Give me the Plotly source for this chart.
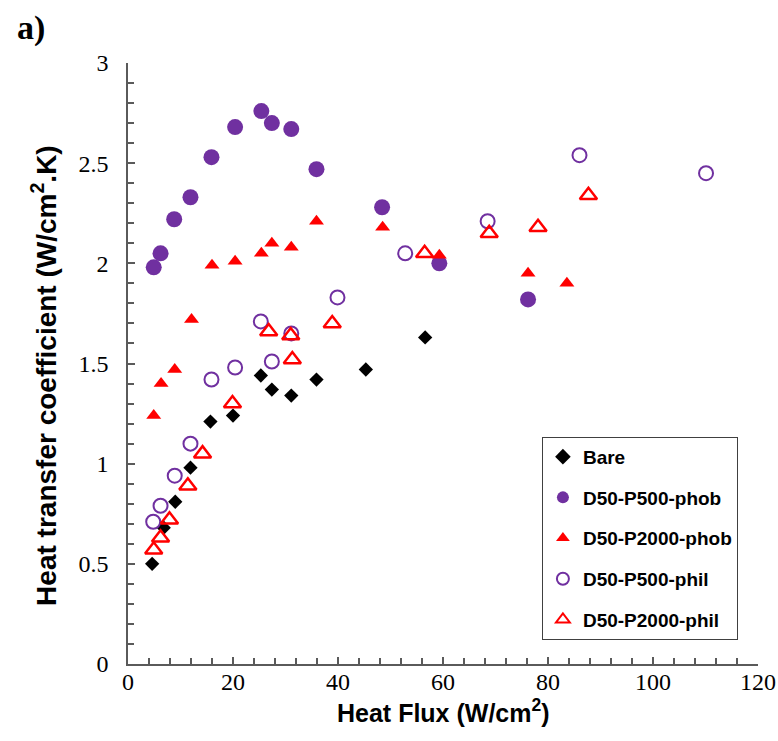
import plotly.graph_objects as go

# ---- data ----
bare_x = [4.6, 6.8, 9.0, 11.9, 15.7, 20.0, 25.3, 27.4, 31.1, 35.9, 45.3, 56.6]
bare_y = [0.50, 0.68, 0.81, 0.98, 1.21, 1.24, 1.44, 1.37, 1.34, 1.42, 1.47, 1.63]

p500_phob_x = [4.9, 6.2, 8.8, 11.9, 15.9, 20.4, 25.4, 27.4, 31.1, 35.9, 48.4, 59.3, 76.2]
p500_phob_y = [1.98, 2.05, 2.22, 2.33, 2.53, 2.68, 2.76, 2.70, 2.67, 2.47, 2.28, 2.00, 1.82]

p2000_phob_x = [4.9, 6.3, 8.9, 12.1, 16.0, 20.4, 25.4, 27.4, 31.1, 35.9, 48.5, 59.3, 76.2, 83.6]
p2000_phob_y = [1.24, 1.40, 1.47, 1.72, 1.99, 2.01, 2.05, 2.10, 2.08, 2.21, 2.18, 2.04, 1.95, 1.90]

p500_phil_x = [4.8, 6.2, 8.9, 11.9, 15.9, 20.4, 25.3, 27.4, 31.1, 39.9, 52.8, 68.5, 86.0, 110.1]
p500_phil_y = [0.71, 0.79, 0.94, 1.10, 1.42, 1.48, 1.71, 1.51, 1.65, 1.83, 2.05, 2.21, 2.54, 2.45]

p2000_phil_x = [4.9, 6.2, 7.9, 11.4, 14.2, 19.9, 26.8, 31.0, 31.3, 38.9, 56.5, 68.8, 78.1, 87.7]
p2000_phil_y = [0.57, 0.63, 0.72, 0.89, 1.05, 1.30, 1.66, 1.64, 1.52, 1.70, 2.05, 2.15, 2.18, 2.34]

names = ["Bare", "D50-P500-phob", "D50-P2000-phob", "D50-P500-phil", "D50-P2000-phil"]
x_title = "<b>Heat Flux (W/cm<sup>2</sup>)</b>"
y_title = "<b>Heat transfer coefficient (W/cm<sup>2</sup>.K)</b>"

PURPLE = "#7030A0"
RED = "#FF0000"

fig = go.Figure()

fig.add_trace(go.Scatter(x=bare_x, y=bare_y, mode="markers", name=names[0], legendgroup="g1",
                         marker=dict(symbol="diamond", size=11, color="black")))
fig.add_trace(go.Scatter(x=p500_phob_x, y=p500_phob_y, mode="markers", name=names[1], legendgroup="g2",
                         marker=dict(symbol="circle", size=16, color=PURPLE)))
fig.add_trace(go.Scatter(x=p2000_phob_x, y=p2000_phob_y, mode="markers", name=names[2], legendgroup="g3",
                         marker=dict(symbol="triangle-up", size=13, color=RED)))
fig.add_trace(go.Scatter(x=p500_phil_x, y=p500_phil_y, mode="markers", name=names[3], legendgroup="g4",
                         marker=dict(symbol="circle-open", size=14, color=PURPLE, line=dict(width=2, color=PURPLE))))
fig.add_trace(go.Scatter(x=p2000_phil_x, y=p2000_phil_y, mode="markers", name=names[4], legendgroup="g5",
                         marker=dict(symbol="triangle-up-open", size=15, color=RED, line=dict(width=2.5, color=RED))))

axis_common = dict(
    showline=True, linecolor="#5a5a5a", linewidth=1.5,
    ticks="inside", ticklen=7, tickwidth=1.5, tickcolor="#5a5a5a",
    showgrid=False, zeroline=False,
    tickfont=dict(family="Liberation Serif, Times New Roman, serif", size=24, color="black"),
    mirror=False,
)

fig.update_xaxes(
    range=[0, 120], dtick=20, tick0=0,
    minor=dict(ticks="inside", ticklen=6, dtick=4, tickcolor="#5a5a5a", tickwidth=1.5, showgrid=False),
    ticklabelstandoff=-5,
    **axis_common,
)
fig.update_yaxes(
    range=[0, 3], dtick=0.5, tick0=0,
    minor=dict(ticks="inside", ticklen=6, dtick=0.1, tickcolor="#5a5a5a", tickwidth=1.5, showgrid=False),
    ticklabelstandoff=13,
    **axis_common,
)

fig.update_layout(
    width=778, height=741,
    margin=dict(l=128, r=20, t=63, b=77, autoexpand=False),
    paper_bgcolor="white", plot_bgcolor="white",
    showlegend=True,
    legend=dict(
        x=0.657, y=0.378, xanchor="left", yanchor="top",
        bgcolor="white", bordercolor="#404040", borderwidth=1,
        font=dict(family="Liberation Sans, Arial, sans-serif", size=19, color="black", weight="bold"),
        tracegroupgap=13, itemsizing="constant", itemwidth=30,
    ),
    annotations=[
        dict(text="<b>a)</b>", xref="paper", yref="paper", x=-0.180, y=1.094,
             xanchor="left", yanchor="top", showarrow=False,
             font=dict(family="Liberation Serif, Times New Roman, serif", size=34, color="black")),
        dict(text=y_title, xref="paper", yref="paper", x=-0.1334, y=0.481,
             xanchor="center", yanchor="middle", textangle=-90, showarrow=False,
             font=dict(family="Liberation Sans, Arial, sans-serif", size=28, color="black")),
        dict(text=x_title, xref="paper", yref="paper", x=0.5, y=-0.078,
             xanchor="center", yanchor="middle", showarrow=False,
             font=dict(family="Liberation Sans, Arial, sans-serif", size=25, color="black")),
    ],
)

fig.write_html("out.html")
